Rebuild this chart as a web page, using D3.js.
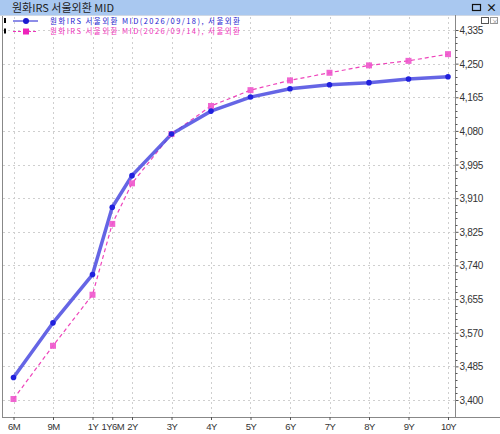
<!DOCTYPE html>
<html><head><meta charset="utf-8">
<script src="https://cdn.jsdelivr.net/npm/d3@7"></script>
<style>
body{margin:0;background:#fff;}
svg{display:block;font-family:"Noto Sans CJK KR","DejaVu Sans",sans-serif;}
</style></head>
<body><svg id="c" width="500" height="434"></svg>
<script>
const title = "원화IRS 서울외환 MID";
const tenors = ["6M","9M","1Y","1Y6M","2Y","3Y","4Y","5Y","6Y","7Y","8Y","9Y","10Y"];
const tenorSlot = [0,1,2,2.5,3,4,5,6,7,8,9,10,11];
const seriesNames = ["원화IRS 서울외환 MID(2026/09/18), 서울외환","원화IRS 서울외환 MID(2026/09/14), 서울외환"];
const seriesA = [3.457,3.595,3.717,3.887,3.967,4.072,4.130,4.1655,4.1866,4.1966,4.202,4.211,4.217];
const seriesB = [3.4025,3.537,3.666,3.845,3.9475,4.072,4.143,4.183,4.2077,4.2269,4.2456,4.257,4.274];
const yTicks = [3.400,3.485,3.570,3.655,3.740,3.825,3.910,3.995,4.080,4.165,4.250,4.335];

const svg = d3.select("#c");
const W=500,H=434;
const plot = {left:3,right:455,top:17,bottom:417};
const sans = "Arial,'Liberation Sans',sans-serif";

// title bar
svg.append("rect").attr("x",0).attr("y",0).attr("width",W).attr("height",15).attr("fill","#a9c8f0");
svg.append("text").attr("x",12).attr("y",11.5).attr("font-size",11).attr("fill","#222").text(title);
// window icons
svg.append("rect").attr("x",472.5).attr("y",4.5).attr("width",8).attr("height",6).attr("fill","none").attr("stroke","#111").attr("stroke-width",1.2);
svg.append("text").attr("x",486).attr("y",12).attr("font-size",11).attr("font-weight","bold").attr("fill","#111").text("×");

// frame
svg.append("line").attr("x1",2.5).attr("x2",2.5).attr("y1",15).attr("y2",417).attr("stroke","#888");
svg.append("line").attr("x1",2).attr("x2",W).attr("y1",417.5).attr("y2",417.5).attr("stroke","#888");
svg.append("line").attr("x1",0).attr("x2",W).attr("y1",15.5).attr("y2",15.5).attr("stroke","#d0d8e4");

const x = d3.scaleLinear().domain([0,11]).range([13.5,448]);
const y = d3.scaleLinear().domain([3.400,4.335]).range([400,30]);

// grid
const g = svg.append("g");
g.selectAll(".hg").data(yTicks).join("line")
 .attr("x1",plot.left).attr("x2",plot.right).attr("y1",d=>Math.round(y(d))+0.5).attr("y2",d=>Math.round(y(d))+0.5)
 .attr("stroke","#cfcfcf").attr("stroke-dasharray","2,3");
g.selectAll(".vg").data(tenorSlot).join("line")
 .attr("x1",d=>Math.round(x(d))+0.5).attr("x2",d=>Math.round(x(d))+0.5).attr("y1",plot.top).attr("y2",plot.bottom)
 .attr("stroke","#cfcfcf").attr("stroke-dasharray","2,3");

// y axis
const yAxis = d3.axisRight(y).tickValues(yTicks).tickSize(3).tickPadding(1)
  .tickFormat(d=>d3.format(".3f")(d).replace(".",","));
const ya = svg.append("g").attr("transform",`translate(${plot.right+0.5},0)`).call(yAxis);
ya.select(".domain").remove();
ya.selectAll("text").attr("font-size",10).attr("fill","#333").attr("font-family",sans).attr("letter-spacing",-0.3).attr("dy","0.35em");
ya.selectAll("line").attr("stroke","#555");
svg.append("line").attr("x1",plot.right+0.5).attr("x2",plot.right+0.5).attr("y1",15).attr("y2",417).attr("stroke","#888");
// minor ticks
const minor = [];
for(let i=0;i<yTicks.length-1;i++){for(let k=1;k<5;k++){minor.push(yTicks[i]+(yTicks[i+1]-yTicks[i])*k/5);}}
svg.selectAll(".mt").data(minor).join("line")
 .attr("x1",plot.right+0.5).attr("x2",plot.right+2.5).attr("y1",d=>Math.round(y(d))+0.5).attr("y2",d=>Math.round(y(d))+0.5).attr("stroke","#555");

// x axis
const xAxis = d3.axisBottom(x).tickValues(tenorSlot).tickSize(3).tickPadding(3).tickFormat((d,i)=>tenors[i]);
const xa = svg.append("g").attr("transform",`translate(0,${plot.bottom})`).call(xAxis);
xa.select(".domain").remove();
xa.selectAll("line").attr("stroke","#555").attr("y2",3);
xa.selectAll("text").attr("font-size",9.5).attr("fill","#333").attr("font-family",sans).attr("letter-spacing",-0.6);

// lines
const line = d3.line().x((d,i)=>x(tenorSlot[i])).y(d=>y(d));
svg.append("path").datum(seriesB).attr("d",line).attr("fill","none").attr("stroke","#ee44bb").attr("stroke-width",1.2).attr("stroke-dasharray","4,3");
svg.append("path").datum(seriesA).attr("d",line).attr("fill","none").attr("stroke","#4a4ae0").attr("stroke-opacity",0.85).attr("stroke-width",3.5);
svg.selectAll(".pb").data(seriesB).join("rect")
 .attr("x",(d,i)=>x(tenorSlot[i])-3).attr("y",d=>y(d)-3).attr("width",6).attr("height",6).attr("fill","#ee55cc").attr("opacity",0.9);
svg.selectAll(".pa").data(seriesA).join("circle")
 .attr("cx",(d,i)=>x(tenorSlot[i])).attr("cy",d=>y(d)).attr("r",2.8).attr("fill","#2020dd");

// legend
const lg = svg.append("g");
const legY=[20.5,31];
const cols=["#1a1ad0","#ee33bb"];
legY.forEach((ly,i)=>{
  lg.append("rect").attr("x",4).attr("y",ly-2.5).attr("width",2).attr("height",5).attr("fill","#000");
  lg.append("line").attr("x1",13).attr("x2",38).attr("y1",ly+0.5).attr("y2",ly+0.5).attr("stroke",cols[i]).attr("stroke-width",1).attr("stroke-dasharray",i?"3,2":null);
  if(i===0) lg.append("circle").attr("cx",26).attr("cy",ly+0.5).attr("r",3).attr("fill","#1a1ad0");
  else lg.append("rect").attr("x",23).attr("y",ly-2.5).attr("width",6).attr("height",6).attr("fill","#ee22bb");
  lg.append("text").attr("x",50).attr("y",ly+3.2).attr("font-size",7.5).attr("fill",cols[i])
    .attr("textLength",190).attr("lengthAdjust","spacing").text(seriesNames[i]);
});
// small box icons
svg.append("rect").attr("x",481.5).attr("y",17.5).attr("width",7).attr("height",6).attr("fill","#fff").attr("stroke","#555");
svg.append("rect").attr("x",490.5).attr("y",17.5).attr("width",7).attr("height",6).attr("fill","#fff").attr("stroke","#999");
svg.append("text").attr("x",491.5).attr("y",23.5).attr("font-size",7).attr("fill","#888").text("×");
</script></body></html>
